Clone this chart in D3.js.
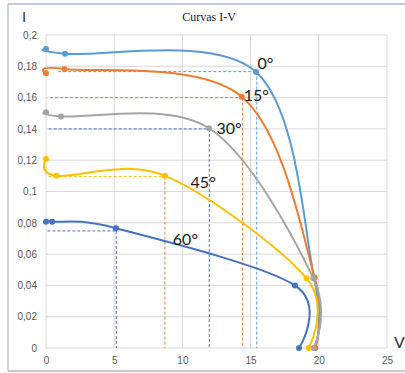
<!DOCTYPE html>
<html>
<head>
<meta charset="utf-8">
<script src="https://cdn.jsdelivr.net/npm/d3@7"></script>
<style>
  body { margin: 0; background: #fff; }
  svg { display: block; }
  .tick text { font-family: "Liberation Sans", Arial, sans-serif; font-size: 10px; fill: #595959; }
</style>
</head>
<body>
<svg id="chart" width="405" height="373"></svg>
<script>
// ---------------------------
// Curvas I-V (Excel style scatter with smoothed lines)
// ---------------------------

const angles = ["0°", "15°", "30°", "45°", "60°"];
const colors = ["#5b9bd5", "#ed7d31", "#a5a5a5", "#ffc000", "#4472c4"];

// measured points per angle (V, I)
const v0  = [0, 1.4, 15.4, 19.65, 19.75];
const i0  = [0.191, 0.188, 0.1764, 0.045, 0];
const v15 = [0, 1.35, 14.35, 19.7, 19.7];
const i15 = [0.1755, 0.1783, 0.1606, 0.045, 0];
const v30 = [0, 1.1, 11.95, 19.6, 19.6];
const i30 = [0.1506, 0.148, 0.1404, 0.0445, 0];
const v45 = [0, 0.78, 8.72, 19.1, 19.25];
const i45 = [0.1208, 0.11, 0.11, 0.0445, 0];
const v60 = [0, 0.46, 5.13, 18.25, 18.55];
const i60 = [0.0807, 0.0807, 0.0765, 0.04, 0];

// dashed guide lines (max power point projections)
const guideV = [15.45, 14.4, 11.97, 8.72, 5.15];
const guideI = [0.1766, 0.16, 0.14, 0.1095, 0.0748];
const guideStartV = [0.9, 0.3, 0.2, 0.2, 0.1];
const guideHColor = ["#5b9bd5", "#ed7d31", "#4472c4", "#ffc000", "#4472c4"];
const guideVColor = ["#5b9bd5", "#ed7d31", "#4472c4", "#ed7d31", "#4472c4"];

// label anchor (V, I) for each angle
const labelV = [15.5, 14.5, 12.5, 10.6, 9.3];
const labelI = [0.1782, 0.1578, 0.1369, 0.1025, 0.066];

const xTicks = [0, 5, 10, 15, 20, 25];
const yTicks = [0, 0.02, 0.04, 0.06, 0.08, 0.1, 0.12, 0.14, 0.16, 0.18, 0.2];

const seriesV = [v0, v15, v30, v45, v60];
const seriesI = [i0, i15, i30, i45, i60];

const svg = d3.select("#chart");

const x = d3.scaleLinear().domain([0, 25]).range([46, 387]);
const y = d3.scaleLinear().domain([0, 0.2]).range([348, 35]);

// outer frame
svg.append("line").attr("x1", 8).attr("x2", 405).attr("y1", 4).attr("y2", 4)
  .attr("stroke", "#aab8d2").attr("stroke-width", 1.5);
svg.append("line").attr("x1", 8).attr("x2", 8).attr("y1", 4).attr("y2", 371)
  .attr("stroke", "#aab8d2").attr("stroke-width", 1.2);
svg.append("line").attr("x1", 8).attr("x2", 405).attr("y1", 371).attr("y2", 371)
  .attr("stroke", "#aab8d2").attr("stroke-width", 1.5);

// gridlines
const grid = svg.append("g");
grid.selectAll(".vg").data(xTicks).enter().append("line")
  .attr("x1", d => x(d)).attr("x2", d => x(d))
  .attr("y1", y(0)).attr("y2", y(0.2))
  .attr("stroke", "#d9d9d9").attr("stroke-width", 1);
grid.selectAll(".hg").data(yTicks).enter().append("line")
  .attr("x1", x(0)).attr("x2", x(25))
  .attr("y1", d => y(d)).attr("y2", d => y(d))
  .attr("stroke", "#d9d9d9").attr("stroke-width", 1);

// axes (labels only)
const fmt = d => String(+d.toFixed(2)).replace(".", ",");
const yAxis = svg.append("g").attr("transform", `translate(${x(0)},0)`)
  .call(d3.axisLeft(y).tickValues(yTicks).tickFormat(fmt).tickSize(0).tickPadding(9));
yAxis.select(".domain").remove();
const xAxis = svg.append("g").attr("transform", `translate(0,${y(0)})`)
  .call(d3.axisBottom(x).tickValues(xTicks).tickFormat(d => d).tickSize(0).tickPadding(9));
xAxis.select(".domain").remove();

// dashed guides
const guides = svg.append("g");
angles.forEach((a, k) => {
  guides.append("line")
    .attr("x1", x(guideStartV[k])).attr("x2", x(guideV[k]))
    .attr("y1", y(guideI[k])).attr("y2", y(guideI[k]))
    .attr("stroke", guideHColor[k]).attr("stroke-width", 1)
    .attr("stroke-dasharray", "3,2");
  guides.append("line")
    .attr("x1", x(guideV[k])).attr("x2", x(guideV[k]))
    .attr("y1", y(guideI[k])).attr("y2", y(0))
    .attr("stroke", guideVColor[k]).attr("stroke-width", 1)
    .attr("stroke-dasharray", "3,2");
});

// smoothed curves
const line = d3.line()
  .x(d => x(d[0]))
  .y(d => y(d[1]))
  .curve(d3.curveCatmullRom.alpha(0));

const series = angles.map((a, k) => ({
  name: a,
  color: colors[k],
  pts: seriesV[k].map((v, j) => [v, seriesI[k][j]])
}));

const plot = svg.append("g");
series.forEach(s => {
  plot.append("path")
    .attr("d", line(s.pts))
    .attr("fill", "none")
    .attr("stroke", s.color)
    .attr("stroke-width", 2);
});
series.forEach(s => {
  plot.selectAll(null).data(s.pts).enter().append("circle")
    .attr("cx", d => x(d[0])).attr("cy", d => y(d[1]))
    .attr("r", 3)
    .attr("fill", s.color);
});

// angle labels
svg.selectAll(".ang").data(angles).enter().append("text")
  .attr("x", (d, k) => x(labelV[k]))
  .attr("y", (d, k) => y(labelI[k]))
  .attr("font-family", "Lato, 'Open Sans', sans-serif")
  .attr("font-size", 16)
  .attr("fill", "#1a1a1a")
  .text(d => d);

// titles
svg.append("text").attr("x", 209).attr("y", 21)
  .attr("text-anchor", "middle")
  .attr("font-family", "'Liberation Serif', 'Times New Roman', serif")
  .attr("font-size", 12).attr("fill", "#222")
  .text("Curvas I-V");
svg.append("text").attr("x", 24).attr("y", 22)
  .attr("text-anchor", "middle")
  .attr("font-family", "'Liberation Sans', Arial, sans-serif")
  .attr("font-size", 15).attr("fill", "#333")
  .text("I");
svg.append("text").attr("x", 394).attr("y", 348)
  .attr("font-family", "Lato, 'Open Sans', sans-serif")
  .attr("font-size", 16).attr("fill", "#333")
  .text("V");
</script>
</body>
</html>
